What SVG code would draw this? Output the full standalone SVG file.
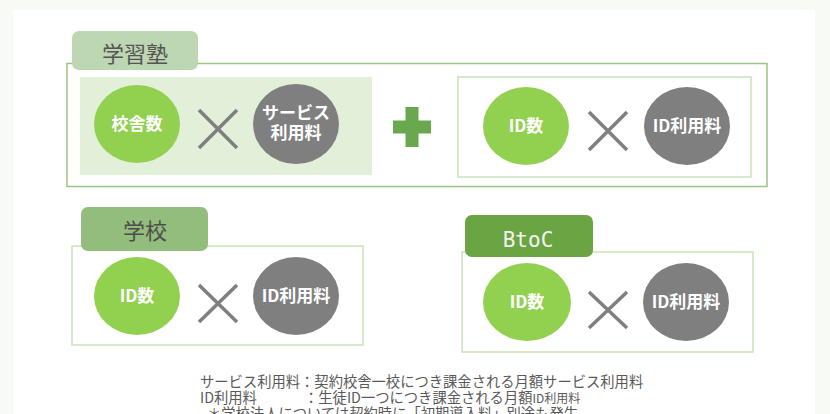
<svg xmlns="http://www.w3.org/2000/svg" width="830" height="414" viewBox="0 0 830 414">
<style>
.jp{font-family:"Noto Sans CJK JP","Noto Sans",sans-serif}
.ct{font-family:"Noto Sans CJK JP","Noto Sans",sans-serif;font-size:17px;font-weight:bold;fill:#ffffff;text-anchor:middle}
.g{fill:#92d050}
.k{fill:#7f7f7f}
.x{stroke:#7f7f7f;stroke-width:3.5;fill:none}
.lb{fill:none;stroke:#c9e2bb;stroke-width:1.5}
.note{font-family:"Noto Sans CJK JP","Noto Sans",sans-serif;font-size:14.3px;fill:#595959}
</style>
<rect x="0" y="0" width="830" height="414" fill="#f8faf5"/>
<rect x="13" y="10" width="802" height="404" fill="#ffffff"/>

<g id="juku">
<rect x="67" y="63.5" width="700" height="123" fill="none" stroke="#9cc486" stroke-width="1.5"/>
<rect x="72" y="31" width="126" height="39" rx="7" fill="#bcd7b1"/>
<text x="135" y="62" class="jp" font-size="22" fill="#555555" text-anchor="middle">学習塾</text>
<rect x="80" y="77" width="292" height="98" fill="#e2efd9"/>
<ellipse cx="137" cy="124" rx="43" ry="39" class="g"/>
<text x="137" y="130" class="ct">校舎数</text>
<path d="M199 110 L237 148 M237 110 L199 148" class="x"/>
<ellipse cx="296" cy="124" rx="43" ry="40" class="k"/>
<text x="296" y="119" class="ct">サービス</text>
<text x="296" y="139" class="ct">利用料</text>
<path d="M405.5 107 H418.5 V120.5 H431 V133.5 H418.5 V147 H405.5 V133.5 H393 V120.5 H405.5 Z" fill="#6aa84f"/>
<rect x="458" y="77" width="293" height="100" class="lb"/>
<ellipse cx="526" cy="126" rx="43" ry="39" class="g"/>
<text x="526" y="132" class="ct">ID数</text>
<path d="M589 112 L627 150 M627 112 L589 150" class="x"/>
<ellipse cx="687" cy="126" rx="43" ry="39" class="k"/>
<text x="687" y="132" class="ct">ID利用料</text>
</g>

<g id="school">
<rect x="72" y="246" width="291" height="99" class="lb"/>
<rect x="81" y="207" width="127" height="44" rx="7" fill="#93bd7c"/>
<text x="145" y="239" class="jp" font-size="22" fill="#4d4d4d" text-anchor="middle">学校</text>
<ellipse cx="137" cy="296" rx="43" ry="39" class="g"/>
<text x="137" y="302" class="ct">ID数</text>
<path d="M199 285 L237 322 M237 285 L199 322" class="x"/>
<ellipse cx="296" cy="296" rx="43" ry="39" class="k"/>
<text x="296" y="302" class="ct">ID利用料</text>
</g>

<g id="btoc">
<rect x="462" y="252" width="291" height="100" class="lb"/>
<rect x="465" y="215" width="128" height="42" rx="7" fill="#6aa443"/>
<text x="528" y="247" font-family="'DejaVu Sans Mono','Liberation Mono',monospace" font-size="21" fill="#f2f2f2" text-anchor="middle">BtoC</text>
<ellipse cx="527" cy="302" rx="44" ry="39" class="g"/>
<text x="527" y="308" class="ct">ID数</text>
<path d="M589 292 L627 328 M627 292 L589 328" class="x"/>
<ellipse cx="686" cy="302" rx="43" ry="39" class="k"/>
<text x="686" y="308" class="ct">ID利用料</text>
</g>

<g id="connectors"></g>

<g id="notes">
<text x="200" y="387" class="note">サービス利用料：契約校舎一校につき課金される月額サービス利用料</text>
<text x="200" y="403" class="note">ID利用料</text>
<text x="304" y="403" class="note">：生徒ID一つにつき課金される月額<tspan font-size="12">ID利用料</tspan></text>
<text x="207" y="419" class="note" font-size="11">＊学校法人については契約時に「初期導入料」別途も発生</text>
</g>
</svg>
